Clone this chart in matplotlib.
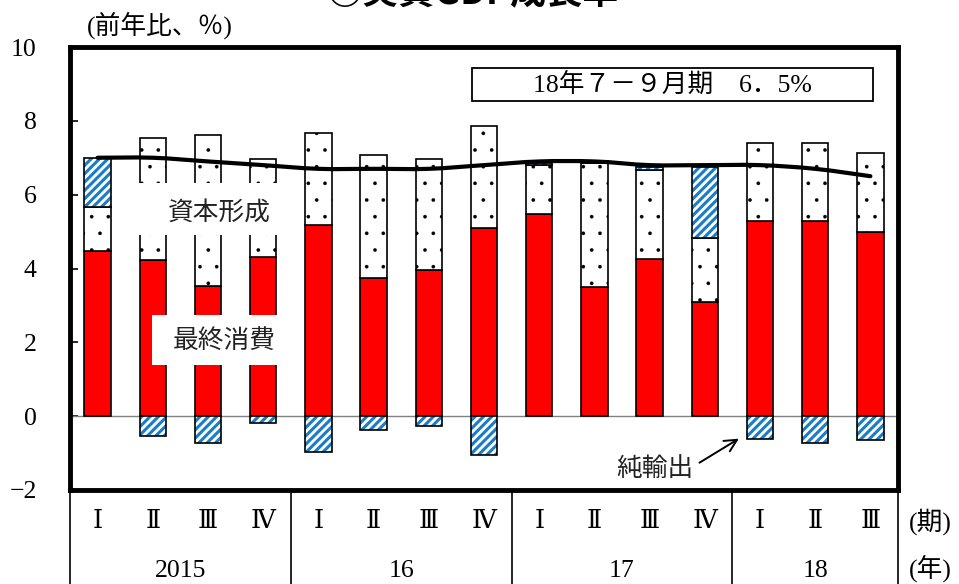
import numpy as np
import matplotlib.pyplot as plt
from matplotlib.patches import Rectangle, PathPatch
from matplotlib.path import Path

# contributions to real GDP growth (percentage points)
quarters = ['Ⅰ', 'Ⅱ', 'Ⅲ', 'Ⅳ', 'Ⅰ', 'Ⅱ', 'Ⅲ', 'Ⅳ', 'Ⅰ', 'Ⅱ', 'Ⅲ', 'Ⅳ', 'Ⅰ', 'Ⅱ', 'Ⅲ']
years = ['2015', '16', '17', '18']
quarters_per_year = [4, 4, 4, 3]
consumption = [4.47, 4.23, 3.53, 4.31, 5.17, 3.75, 3.95, 5.10, 5.47, 3.50, 4.27, 3.10, 5.28, 5.29, 4.99]
capital = [1.19, 3.30, 4.08, 2.65, 2.49, 3.33, 3.01, 2.76, 1.33, 3.35, 2.40, 1.73, 2.13, 2.12, 2.13]
net_exports = [1.34, -0.54, -0.72, -0.18, -0.98, -0.38, -0.26, -1.06, 0.05, 0.05, 0.09, 1.92, -0.63, -0.72, -0.65]
gdp = [7.0, 7.0, 6.9, 6.8, 6.7, 6.7, 6.7, 6.8, 6.9, 6.9, 6.8, 6.8, 6.8, 6.7, 6.5]

serif = ['Liberation Serif', 'DejaVu Serif', 'Noto Sans CJK JP']
jp = ['Noto Sans CJK JP', 'DejaVu Sans']
plt.rcParams['font.family'] = serif
plt.rcParams['font.size'] = 18.5

fig = plt.figure(figsize=(9.59, 5.84), dpi=100)
ax = fig.add_axes([70/959, 94/584, 828/959, 443/584])

x = np.arange(len(consumption))
w = 0.48
cons = np.array(consumption)
cap = np.array(capital)
net = np.array(net_exports)

ax.bar(x, cons, w, color='#ff0000', edgecolor='black', lw=1.2, zorder=3)

# small dots for capital formation
with plt.rc_context({'hatch.linewidth': 0.2}):
    dots = ax.bar(x, cap, w, bottom=cons, color='white', edgecolor='black',
                  hatch='.', lw=1.2, zorder=3)
for p in dots:
    if hasattr(p, 'set_hatch_linewidth'):
        p.set_hatch_linewidth(0.2)

# blue stripes for net exports
net_bottom = np.where(net > 0, cons + cap, 0)
with plt.rc_context({'hatch.linewidth': 2.2}):
    stripes = ax.bar(x, net, w, bottom=net_bottom, color='white', edgecolor='#1a7dc8',
                     hatch='////', lw=0, zorder=3)
for p in stripes:
    if hasattr(p, 'set_hatch_linewidth'):
        p.set_hatch_linewidth(2.2)
ax.bar(x, net, w, bottom=net_bottom, fill=False, edgecolor='black', lw=1.2, zorder=3)

ax.axhline(0, color='#808080', lw=1, zorder=2)

# smooth growth line (Catmull-Rom segments as cubic Beziers)
pts = np.column_stack([x, gdp]).astype(float)
verts = [pts[0]]
codes = [Path.MOVETO]
for i in range(len(pts) - 1):
    p0 = pts[max(i - 1, 0)]
    p1 = pts[i]
    p2 = pts[i + 1]
    p3 = pts[min(i + 2, len(pts) - 1)]
    verts += [p1 + (p2 - p0) / 6, p2 - (p3 - p1) / 6, p2]
    codes += [Path.CURVE4] * 3
ax.add_patch(PathPatch(Path(verts, codes), fill=False, lw=3, edgecolor='black',
                       capstyle='round', zorder=6))

# white label boxes over the bars
ax.add_patch(Rectangle((0.69, 4.9), 2.95, 1.42, facecolor='white', edgecolor='none', zorder=4))
ax.text(2.2, 5.52, '資本形成', ha='center', va='center', family=jp, color='#222222', zorder=5)
ax.add_patch(Rectangle((0.99, 1.38), 2.73, 1.36, facecolor='white', edgecolor='none', zorder=4))
ax.text(2.3, 2.04, '最終消費', ha='center', va='center', family=jp, color='#222222', zorder=5)

ax.text(10.1, -1.42, '純輸出', ha='center', va='center', family=jp, color='#222222')
ax.annotate('', xy=(11.66, -0.57), xytext=(10.86, -1.30),
            arrowprops=dict(arrowstyle='->', lw=1.4, color='black', mutation_scale=22))

ax.add_patch(Rectangle((0.4855, 0.878), 0.4845, 0.0745, transform=ax.transAxes,
                       fill=False, edgecolor='black', lw=1.3, zorder=5))
ax.text(0.7275, 0.914, '18年７－９月期　6．5%', transform=ax.transAxes,
        ha='center', va='center', zorder=6)

ax.set_xlim(-0.5, 14.5)
ax.set_ylim(-2, 10)
ax.set_yticks(np.arange(-2, 11, 2))
ax.set_xticks([])
ax.tick_params(axis='y', direction='in', length=6, width=1.2, pad=24)
for s in ax.spines.values():
    s.set_linewidth(3.5)

# period / year table under the plot
tr = ax.get_xaxis_transform()
for i, q in enumerate(quarters):
    ax.text(i, -0.072, q, ha='center', va='center', transform=tr, clip_on=False)
edges = np.concatenate([[0], np.cumsum(quarters_per_year)]) - 0.5
for yr, a, b in zip(years, edges[:-1], edges[1:]):
    ax.text((a + b) / 2, -0.182, yr, ha='center', va='center', transform=tr, clip_on=False)
for e in edges:
    ax.plot([e, e], [0, -0.25], transform=tr, clip_on=False, color='black', lw=1.2)
ax.text(15.08, -0.072, '(期)', ha='center', va='center', transform=tr, clip_on=False)
ax.text(15.08, -0.176, '(年)', ha='center', va='center', transform=tr, clip_on=False)

fig.text(160/959, 1 - 25/584, '(前年比、％)', ha='center', va='center')
fig.text(472/959, 1 - 3/584, '○実質GDP成長率', ha='center', va='baseline',
         fontsize=26, fontweight='bold', family=jp)

fig.savefig('out.png', dpi=100)
